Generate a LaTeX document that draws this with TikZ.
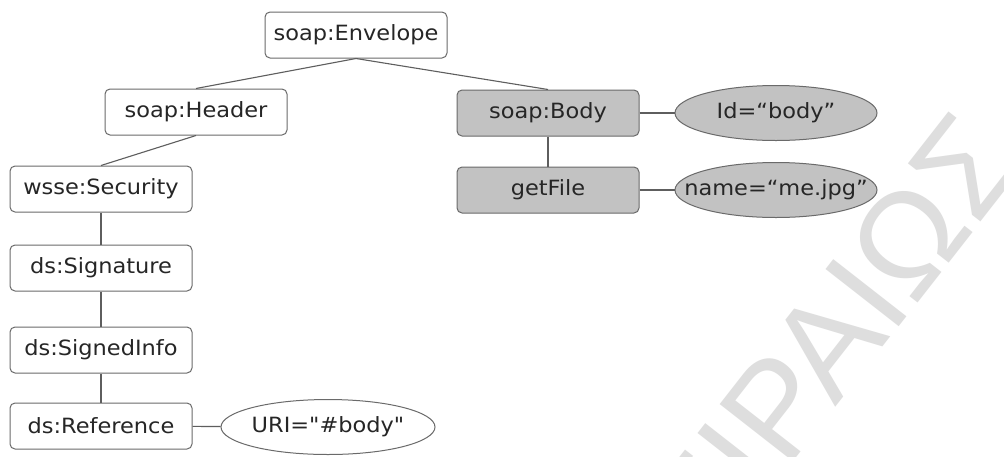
\documentclass[tikz,border=0pt]{standalone}
\usepackage{fontspec}
\setmainfont{DejaVu Sans}
\newfontfamily\labelfont[FakeStretch=1.07]{DejaVu Sans}
\newfontfamily\markfont{Liberation Sans}
\usetikzlibrary{shapes.geometric}
\definecolor{boxline}{HTML}{6A6A6A}
\definecolor{edgecol}{HTML}{5E5E5E}
\definecolor{shade}{HTML}{C2C2C2}
\definecolor{txt}{HTML}{262626}
\definecolor{wm}{HTML}{DEDEDE}
% keeps an ellipse's size independent of its label
\newcommand{\fixedlabel}[1]{\makebox[60pt][c]{#1}}
\begin{document}
\begin{tikzpicture}[x=1pt,y=-1pt,
  elem/.style={draw=boxline, rounded corners=5pt, line width=1pt,
    minimum width=182pt, minimum height=46pt, inner sep=0pt, fill=white,
    text=txt, font=\labelfont\fontsize{21}{24}\selectfont},
  shaded/.style={fill=shade},
  attr/.style={ellipse, draw=boxline, line width=1pt, inner sep=0pt,
    minimum height=55pt, fill=white, text=txt,
    font=\labelfont\fontsize{21}{24}\selectfont},
  link/.style={draw=edgecol, line width=1.1pt}]
\useasboundingbox (0,0) rectangle (1004,456);
\fill[white] (0,0) rectangle (1004,456);

% faint watermark lettering behind the tree
\begin{scope}
  \clip (0,0) rectangle (1004,456);
  \node[rotate=52, anchor=base, inner sep=0pt, text=wm,
        font=\markfont\fontsize{135}{140}\selectfont] (mark) at (838,405) {ΠΕΙΡΑΙΩΣ};
\end{scope}

% element nodes
\node[elem] (env) at (356,35) {soap:Envelope};
\node[elem] (hdr) at (196,112) {soap:Header};
\node[elem] (sec) at (101,189) {wsse:Security};
\node[elem] (sig) at (101,268) {ds:Signature};
\node[elem] (sinfo) at (101,350) {ds:SignedInfo};
\node[elem] (ref) at (101,426) {ds:Reference};
\node[elem, shaded] (body) at (548,113) {soap:Body};
\node[elem, shaded] (getf) at (548,190) {getFile};

% attribute nodes
\node[attr, minimum width=214pt] (uri) at (328,427) {\fixedlabel{URI="\#body"}};
\node[attr, shaded, minimum width=202pt] (id) at (776,113) {\fixedlabel{Id=“body”}};
\node[attr, shaded, minimum width=202pt] (fname) at (776,190) {\fixedlabel{name=“me.jpg”}};

% connectors
\draw[link] (env.south) -- (hdr.north);
\draw[link] (env.south) -- (body.north);
\draw[link] (hdr.south) -- (sec.north);
\draw[link] (sec) -- (sig);
\draw[link] (sig) -- (sinfo);
\draw[link] (sinfo) -- (ref);
\draw[link] (ref) -- (uri);
\draw[link] (body) -- (getf);
\draw[link] (body) -- (id);
\draw[link] (getf) -- (fname);
\end{tikzpicture}
\end{document}
